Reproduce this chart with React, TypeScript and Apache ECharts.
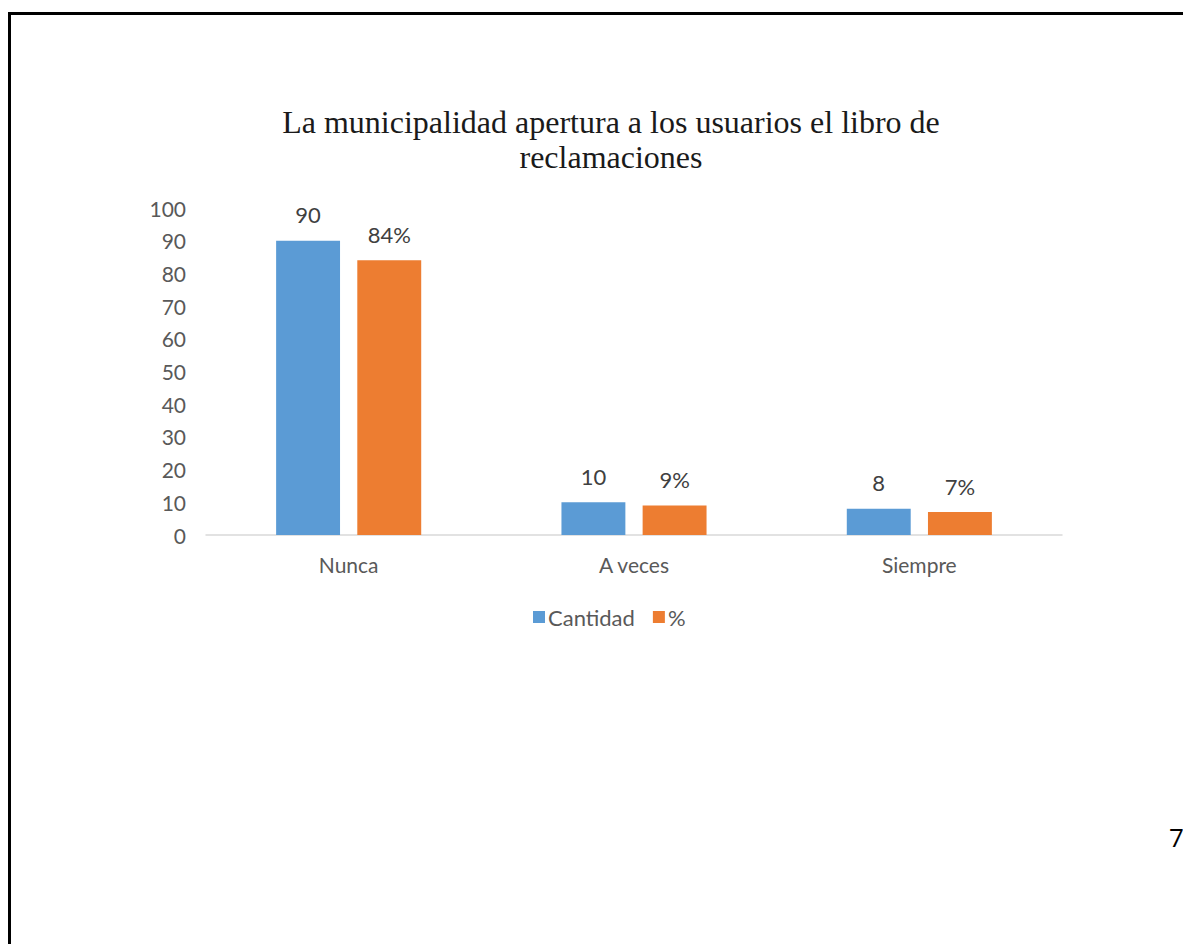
import React, { useEffect, useRef } from "react";
import * as echarts from "echarts";

const categories = ["Nunca", "A veces", "Siempre"];
const cantidad = [90, 10, 8];
const porcentaje = [84, 9, 7];
const yTicks = { min: 0, max: 100, interval: 10 };
const titleText = "La municipalidad apertura a los usuarios el libro de\nreclamaciones";
const pageNumber = "7";

export default function App() {
  const ref = useRef<HTMLDivElement>(null);
  useEffect(() => {
    const chart = echarts.init(ref.current!, null, { renderer: "svg" });
    const labelFont = { fontFamily: "Lato", fontSize: 22, color: "#404040" };
    chart.setOption({
      animation: false,
      backgroundColor: "#ffffff",
      title: {
        text: titleText,
        left: 606,
        textAlign: "center",
        top: 99,
        textStyle: {
          fontFamily: "Liberation Serif",
          fontSize: 32,
          fontWeight: "normal",
          color: "#1a1a1a",
          lineHeight: 35,
        },
      },
      grid: { left: 206, right: 121, top: 208, bottom: 409, containLabel: false },
      legend: {
        data: ["Cantidad", "%"],
        left: 528,
        top: 601,
        itemWidth: 12,
        itemHeight: 12,
        itemGap: 18,
        icon: "rect",
        textStyle: { fontFamily: "Lato", fontSize: 22, color: "#595959", padding: [0, 0, 0, -2] },
      },
      xAxis: {
        type: "category",
        data: categories,
        axisLine: { lineStyle: { color: "#D9D9D9", width: 1.5 } },
        axisTick: { show: false },
        axisLabel: { fontFamily: "Lato", fontSize: 21, color: "#595959", margin: 19 },
      },
      yAxis: {
        type: "value",
        min: yTicks.min,
        max: yTicks.max,
        interval: yTicks.interval,
        splitLine: { show: false },
        axisLine: { show: false },
        axisTick: { show: false },
        axisLabel: { fontFamily: "Lato", fontSize: 21, color: "#595959", margin: 20 },
      },
      series: [
        {
          name: "Cantidad",
          type: "bar",
          data: cantidad,
          barWidth: "22.4%",
          barGap: "27%",
          itemStyle: { color: "#5B9BD5" },
          label: { show: true, position: "top", distance: 15, ...labelFont },
        },
        {
          name: "%",
          type: "bar",
          data: porcentaje,
          barWidth: "22.4%",
          itemStyle: { color: "#ED7D31" },
          label: { show: true, position: "top", distance: 15, formatter: "{c}%", ...labelFont },
        },
      ],
      graphic: [
        { type: "line", shape: { x1: 9.5, y1: 12, x2: 9.5, y2: 944 }, style: { stroke: "#000", lineWidth: 3 } },
        { type: "line", shape: { x1: 8, y1: 13.5, x2: 1183, y2: 13.5 }, style: { stroke: "#000", lineWidth: 3 } },
        {
          type: "text",
          x: 1169,
          y: 824,
          style: { text: pageNumber, fontFamily: "Open Sans", fontSize: 26, fill: "#000" },
        },
      ],
    });
    return () => chart.dispose();
  }, []);
  return (
    <div
      ref={ref}
      style={{ position: "fixed", left: 0, top: 0, width: 1183, height: 944 }}
    />
  );
}
